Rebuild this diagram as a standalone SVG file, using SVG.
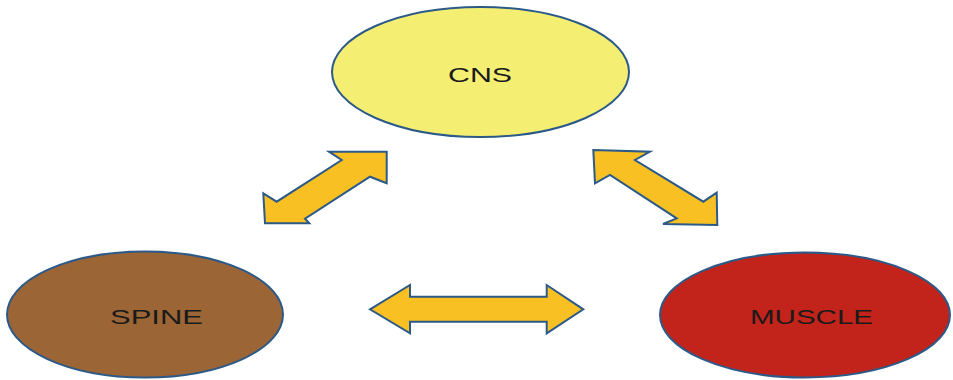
<svg xmlns="http://www.w3.org/2000/svg" width="953" height="380" viewBox="0 0 953 380">
<style>
.node{stroke:#2c5a88;stroke-width:2}
.arrow{fill:#f8c022;stroke:#2c5a88;stroke-width:2;stroke-linejoin:miter}
.label{font-family:"Liberation Sans",Arial,sans-serif;font-size:21px;fill:#1a1a1a;text-anchor:middle}
</style>
<rect width="953" height="380" fill="#ffffff"/>
<g id="connectors">
<polygon class="arrow" points="386.7,151.7 329,151.7 341.7,160 276.7,201.7 263.3,193.3 265,223.3 309.3,223.3 305,218.7 370,176.7 386.7,183.3"/>
<polygon class="arrow" points="593.3,150 650,151.7 635,160 703.3,201.7 716.7,192.7 717.3,225 663,224 676.7,218.3 610,175 595,183.3"/>
<polygon class="arrow" points="370,309.3 410,285 410,296.7 546.7,296.7 546.7,285 583.3,309.3 546.7,333.3 546.7,321.7 410,321.7 410,333.3"/>
</g>
<g id="cns">
<ellipse class="node" cx="480.5" cy="72" rx="148.5" ry="65" fill="#f4ef72"/>
<text class="label" x="480" y="82" textLength="64" lengthAdjust="spacingAndGlyphs">CNS</text>
</g>
<g id="spine">
<ellipse class="node" cx="145" cy="314.5" rx="138" ry="63" fill="#9c6535"/>
<text class="label" x="156.5" y="323.5" textLength="93" lengthAdjust="spacingAndGlyphs">SPINE</text>
</g>
<g id="muscle">
<ellipse class="node" cx="805" cy="315" rx="145" ry="62.5" fill="#c2231b"/>
<text class="label" x="811.5" y="323.5" textLength="123" lengthAdjust="spacingAndGlyphs">MUSCLE</text>
</g>
</svg>
